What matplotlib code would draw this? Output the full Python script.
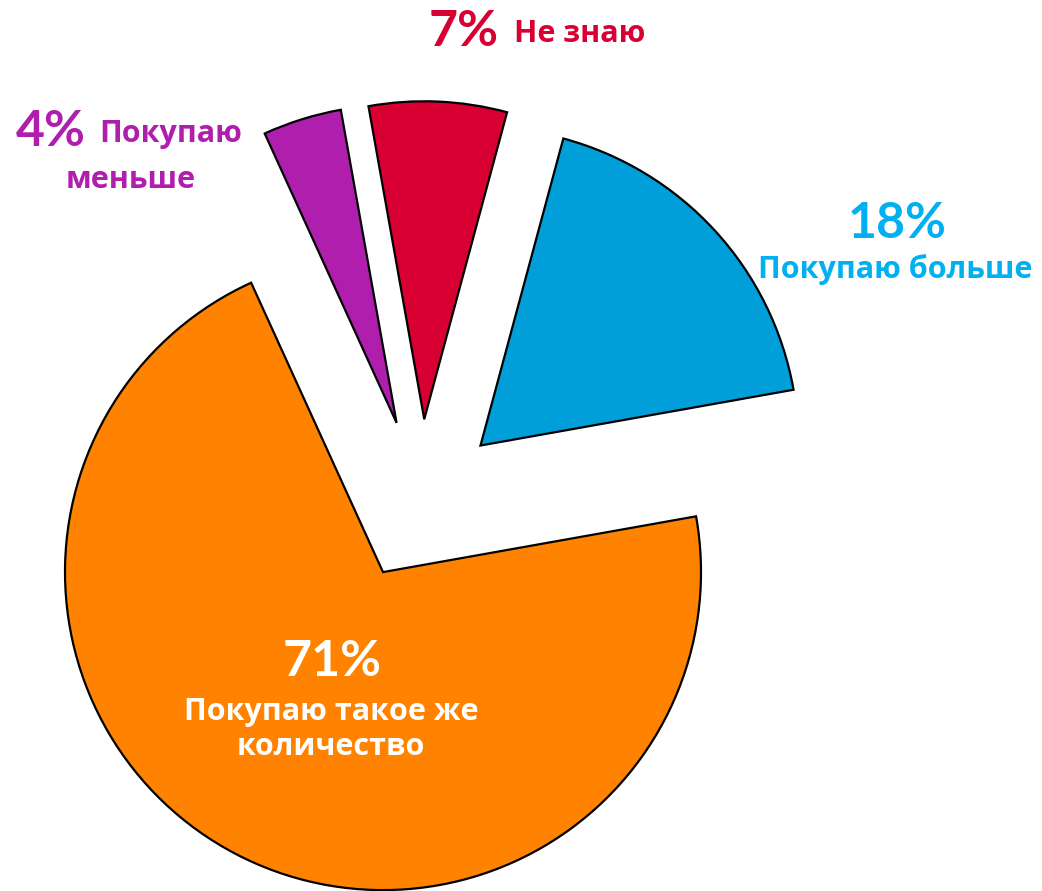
import matplotlib.pyplot as plt

# survey answers, drawn counter-clockwise starting from the blue wedge
labels = ['Покупаю больше', 'Не знаю', 'Покупаю меньше', 'Покупаю такое же количество']
shares = [18, 7, 4, 71]
wedge_colors = ['#009FDA', '#D80032', '#B01EAE', '#FF8200']

W, H = 1042, 891
fig = plt.figure(figsize=(W / 100, H / 100), dpi=100)
ax = fig.add_axes([0, 0, 1, 1])

ax.pie(
    shares,
    colors=wedge_colors,
    startangle=10.1,
    counterclock=True,
    explode=[0.255] * len(shares),
    radius=1.0,
    wedgeprops=dict(edgecolor='black', linewidth=1.6, joinstyle='miter'),
)

# pie centre sits at (420, 500) px, radius 318 px
px = 318.0
cx, cy = 420.7, 500.3
ax.set_xlim(-cx / px, (W - cx) / px)
ax.set_ylim(-(H - cy) / px, cy / px)
ax.set_aspect('equal')
ax.axis('off')

pct_font = ['Lato', 'DejaVu Sans']
txt_font = ['Open Sans', 'DejaVu Sans']


def put(x, y, s, color, size, family, ha='center'):
    fig.text(x / W, 1 - y / H, s, color=color, fontsize=size, fontweight='bold',
             family=family, ha=ha, va='center')


PCT, TXT = 36, 22

# blue
put(897, 224, f'{shares[0]}%', '#00B0F0', PCT, pct_font)
put(895, 270, labels[0], '#00B0F0', TXT, txt_font)
# red
put(499, 31, f'{shares[1]}%', '#D80032', PCT, pct_font, ha='right')
put(514, 34, labels[1], '#D80032', TXT, txt_font, ha='left')
# purple
put(86, 131, f'{shares[2]}%', '#B01EAE', PCT, pct_font, ha='right')
put(99, 134, 'Покупаю', '#B01EAE', TXT, txt_font, ha='left')
put(131, 180, 'меньше', '#B01EAE', TXT, txt_font)
# orange
put(332, 662, f'{shares[3]}%', 'white', PCT, pct_font)
put(331, 712, 'Покупаю такое же', 'white', TXT, txt_font)
put(331, 747, 'количество', 'white', TXT, txt_font)

fig.savefig('out.png', dpi=100)
